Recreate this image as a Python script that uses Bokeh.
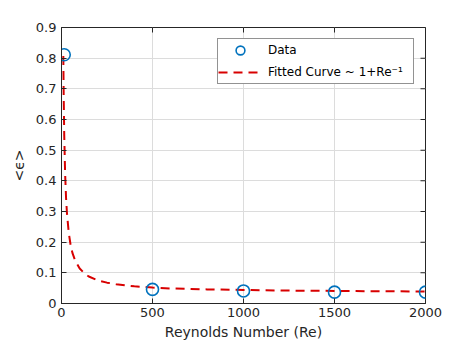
from bokeh.plotting import figure
from bokeh.models import (Range1d, FixedTicker, CustomJSTickFormatter,
                          Legend, LegendItem)
from bokeh.embed import file_html
from bokeh.resources import INLINE

# Data
re_data = [15, 500, 1000, 1500, 2000]
eps_data = [0.811, 0.046, 0.041, 0.037, 0.037]

# Fitted curve
re_fit = [10, 12, 15, 20, 25, 30, 40, 50, 60, 75, 100, 125, 150, 200, 250,
          300, 400, 500, 600, 800, 1000, 1250, 1500, 1750, 2000]
eps_fit = [0.807, 0.679, 0.550, 0.422, 0.345, 0.294, 0.230, 0.191, 0.165, 0.140,
           0.114, 0.099, 0.088, 0.0755, 0.068, 0.063, 0.056, 0.052, 0.049, 0.046,
           0.044, 0.042, 0.041, 0.040, 0.039]

x_ticks = [0, 500, 1000, 1500, 2000]
y_ticks = [0, 0.1, 0.2, 0.3, 0.4, 0.5, 0.6, 0.7, 0.8, 0.9]
x_min, x_max = 0, 2000
y_min, y_max = 0, 0.9

FONT = "DejaVu Sans"
TXT = "#262626"

p = figure(width=466, height=346, output_backend="svg", toolbar_location=None,
           x_range=Range1d(x_min, x_max), y_range=Range1d(y_min, y_max),
           min_border_left=61, min_border_right=41, min_border_top=27,
           min_border_bottom=43)
p.background_fill_color = "white"
p.border_fill_color = "white"
p.outline_line_color = "#262626"
p.outline_line_width = 1

fmt = CustomJSTickFormatter(code="return String(Number(tick.toFixed(2)));")

for ax in p.xaxis:
    ax.ticker = FixedTicker(ticks=x_ticks)
for ax in p.yaxis:
    ax.ticker = FixedTicker(ticks=y_ticks)
    ax.formatter = fmt

for ax in list(p.xaxis) + list(p.yaxis):
    ax.major_tick_in = 5
    ax.major_tick_out = 0
    ax.minor_tick_in = 0
    ax.minor_tick_out = 0
    ax.axis_line_color = "#262626"
    ax.major_tick_line_color = "#262626"
    ax.major_label_text_font = FONT
    ax.major_label_text_font_size = "13px"
    ax.major_label_text_color = TXT
    ax.axis_label_text_font = FONT
    ax.axis_label_text_font_size = "14px"
    ax.axis_label_text_font_style = "normal"
    ax.axis_label_text_color = TXT

p.xaxis.axis_label = "Reynolds Number (Re)"
p.yaxis.axis_label = "<ϵ>"
p.xaxis.major_label_standoff = 4
p.xaxis.axis_label_standoff = 4
p.yaxis.major_label_standoff = 5
p.yaxis.axis_label_standoff = 6

p.xgrid.grid_line_color = "#dcdcdc"
p.ygrid.grid_line_color = "#dcdcdc"
p.xgrid.ticker = FixedTicker(ticks=x_ticks)
p.ygrid.ticker = FixedTicker(ticks=y_ticks)

# inward ticks on the top and right edges of the box (outer half is clipped)
p.rect(x=x_ticks, y=[y_max] * len(x_ticks), width=1, height=10,
       width_units="screen", height_units="screen",
       fill_color="#262626", line_color=None)
p.rect(x=[x_max] * len(y_ticks), y=y_ticks, width=10, height=1,
       width_units="screen", height_units="screen",
       fill_color="#262626", line_color=None)

r_fit = p.line(re_fit, eps_fit, line_color="#d80000", line_width=2, line_dash="9 6")
r_pts = p.scatter(re_data, eps_data, marker="circle", size=12, fill_color=None,
                  line_color="#0072BD", line_width=1.6)

legend = Legend(items=[LegendItem(label="Data", renderers=[r_pts]),
                       LegendItem(label="Fitted Curve ~ 1+Re⁻¹", renderers=[r_fit])],
                location="top_right")
legend.margin = 11
legend.padding = 0
legend.spacing = -3
legend.glyph_width = 44
legend.glyph_height = 22
legend.label_height = 22
legend.label_width = 145
legend.label_standoff = 6
legend.label_text_font = FONT
legend.label_text_font_size = "12px"
legend.label_text_color = "black"
legend.border_line_color = "#262626"
legend.border_line_width = 1
legend.background_fill_color = "white"
legend.background_fill_alpha = 1
p.add_layout(legend)

open("out.html", "w").write(file_html(p, INLINE))
